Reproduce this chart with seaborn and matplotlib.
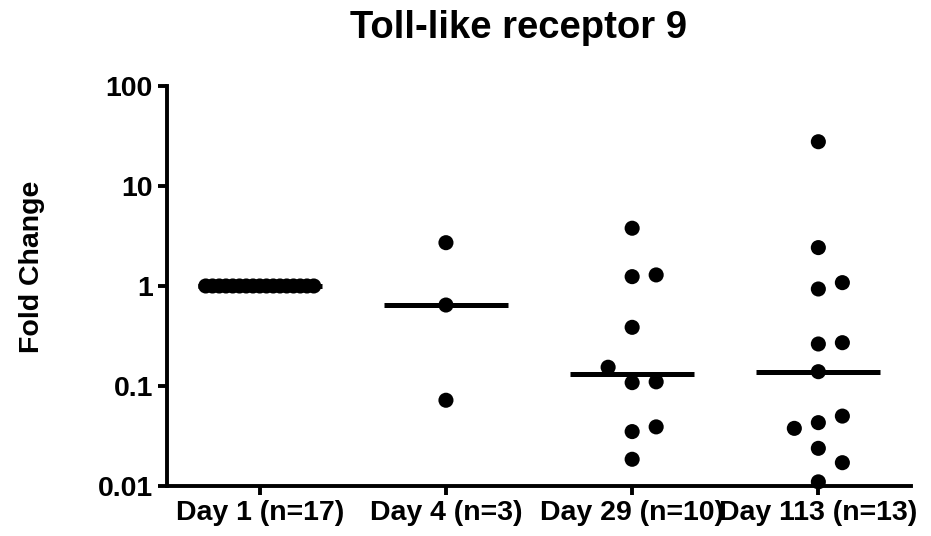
import numpy as np
import pandas as pd
import seaborn as sns
import matplotlib.pyplot as plt

# fold change values per time point
groups = ["Day 1 (n=17)", "Day 4 (n=3)", "Day 29 (n=10)", "Day 113 (n=13)"]
day1 = [1.0] * 17
day4 = [2.71, 0.645, 0.072]
day29 = [3.78, 1.24, 1.29, 0.386, 0.108, 0.110, 0.154, 0.035, 0.039, 0.0185]
day113 = [27.7, 2.42, 0.933, 1.08, 0.263, 0.271, 0.139, 0.043, 0.050,
          0.0377, 0.0238, 0.0171, 0.011]
y_ticks = [0.01, 0.1, 1, 10, 100]
y_tick_labels = ["0.01", "0.1", "1", "10", "100"]


def scatter_offsets(values, step=0.129, min_gap=0.2, max_half=0.29):
    """Greedy column-scatter layout: center first, then right, then left."""
    logs = np.log10(values)
    slots = []
    for i, v in enumerate(logs):
        k = 0
        order = [0]
        for j in range(1, len(values) + 1):
            order += [j, -j]
        for k in order:
            clash = any(s == k and abs(logs[m] - v) < min_gap for m, s in enumerate(slots))
            if not clash:
                break
        slots.append(k)
    offs = np.array(slots, dtype=float) * step
    widest = np.abs(offs).max()
    if widest > max_half:
        offs = offs * max_half / widest
    return offs


rows = []
for pos, vals in enumerate([day1, day4, day29, day113]):
    for off, v in zip(scatter_offsets(vals), vals):
        rows.append({"group": groups[pos], "x": pos + off, "value": v})
df = pd.DataFrame(rows)

sns.set_style("ticks")
plt.rcParams["font.family"] = ["Liberation Sans", "DejaVu Sans"]
plt.rcParams["font.weight"] = "bold"
plt.rcParams["text.color"] = "black"

fig = plt.figure(figsize=(9.31, 5.36), dpi=100)
ax = fig.add_axes([0.179, 0.0933, 0.800, 0.7463])

# median bars
for pos, vals in enumerate([day1, day4, day29, day113]):
    ax.hlines(np.median(vals), pos - 0.333, pos + 0.333, color="black",
              linewidth=3.6, zorder=2)

sns.scatterplot(data=df, x="x", y="value", color="black", s=118,
                edgecolor="none", ax=ax, zorder=3, clip_on=False, legend=False)

ax.set_yscale("log")
ax.set_ylim(0.01, 100)
ax.set_xlim(-0.5, 3.5)
ax.set_yticks(y_ticks)
ax.set_yticklabels(y_tick_labels)
ax.minorticks_off()
ax.set_xticks(range(len(groups)))
ax.set_xticklabels(groups)
ax.set_xlabel("")
ax.set_ylabel("")

for side in ["top", "right"]:
    ax.spines[side].set_visible(False)
for side in ["left", "bottom"]:
    ax.spines[side].set_linewidth(2.8)
    ax.spines[side].set_color("black")
ax.tick_params(axis="both", direction="out", length=6.5, width=2.8,
               color="black", labelsize=20.5, labelcolor="black", pad=3.5)
for lab in ax.get_xticklabels() + ax.get_yticklabels():
    lab.set_fontweight("bold")

fig.text(0.557, 1 - 38 / 536, "Toll-like receptor 9", ha="center",
         va="baseline", fontsize=27.5, fontweight="bold", color="black")
fig.text(32 / 931, 0.502, "Fold Change", rotation=90, ha="center",
         va="center", fontsize=20.5, fontweight="bold", color="black")

fig.savefig("out.png", dpi=100, facecolor="white")
